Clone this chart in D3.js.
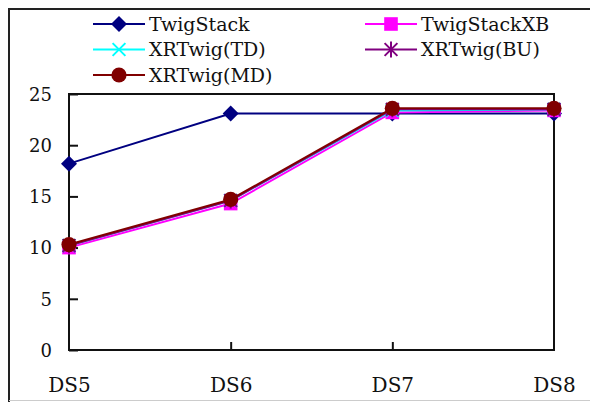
<!DOCTYPE html>
<html><head><meta charset="utf-8">
<script src="https://cdn.jsdelivr.net/npm/d3@7"></script>
<style>body{margin:0;background:#fff}svg{display:block}</style>
</head><body><svg id="c" width="590" height="402"></svg>
<script>
const categories = ["DS5","DS6","DS7","DS8"];
const seriesNames = ["TwigStack","TwigStackXB","XRTwig(TD)","XRTwig(BU)","XRTwig(MD)"];
const twigStack = [18.2, 23.1, 23.1, 23.1];
const twigStackXB = [10.0, 14.3, 23.2, 23.4];
const xrTwigTD = [10.2, 14.6, 23.4, 23.5];
const xrTwigBU = [10.2, 14.6, 23.5, 23.5];
const xrTwigMD = [10.3, 14.7, 23.6, 23.6];
const yTicks = [0, 5, 10, 15, 20, 25];

const FONT = "DejaVu Serif";
const colors = ["#000080","#ff00ff","#00ffff","#800080","#800000"];
const markers = ["diamond","square","x","star","circle"];
const values = [twigStack, twigStackXB, xrTwigTD, xrTwigBU, xrTwigMD];

const svg = d3.select("#c");
const L = 69, R = 554, T = 94, B = 350;
const x = d3.scalePoint().domain(categories).range([L, R]);
const y = d3.scaleLinear().domain([0, 25]).range([B, T]);

svg.append("path").attr("d", "M9,402V9H590").attr("fill","none").attr("stroke","#222").attr("stroke-width",2);
svg.append("line").attr("x1",9).attr("x2",590).attr("y1",400.5).attr("y2",400.5).attr("stroke","#ccc").attr("stroke-width",1);

svg.append("rect").attr("x",L).attr("y",T).attr("width",R-L).attr("height",B-T)
  .attr("fill","none").attr("stroke","#111").attr("stroke-width",2);

const yAxis = d3.axisLeft(y).tickValues(yTicks).tickSize(-9).tickPadding(17).tickSizeOuter(0);
const ga = svg.append("g").attr("transform",`translate(${L},0)`).call(yAxis);
ga.attr("font-family", FONT).attr("font-size", 18);
ga.select(".domain").remove();
ga.selectAll(".tick line").attr("stroke","#111").attr("stroke-width",2);
ga.selectAll(".tick text").attr("fill","#111").attr("dy","0.35em");

const xAxis = d3.axisBottom(x).tickSize(-8).tickPadding(28).tickSizeOuter(0);
const gx = svg.append("g").attr("transform",`translate(0,${B})`).call(xAxis);
gx.attr("font-family", FONT).attr("font-size", 20);
gx.select(".domain").remove();
gx.selectAll(".tick line").attr("stroke","#111").attr("stroke-width",2)
  .attr("display",(d,i)=> (i===0||i===categories.length-1)?"none":null);
gx.selectAll(".tick text").attr("fill","#111");

function drawMarker(g, type, color, cx, cy, s) {
  if (type === "diamond") {
    g.append("path").attr("d", `M${cx},${cy-s}L${cx+s},${cy}L${cx},${cy+s}L${cx-s},${cy}Z`).attr("fill", color);
  } else if (type === "square") {
    g.append("rect").attr("x", cx-s*0.85).attr("y", cy-s*0.85).attr("width", s*1.7).attr("height", s*1.7).attr("fill", color);
  } else if (type === "circle") {
    g.append("circle").attr("cx", cx).attr("cy", cy).attr("r", s*0.95).attr("fill", color);
  } else if (type === "x") {
    const a = s*0.8;
    g.append("path").attr("d", `M${cx-a},${cy-a}L${cx+a},${cy+a}M${cx-a},${cy+a}L${cx+a},${cy-a}`).attr("stroke", color).attr("stroke-width", 2);
  } else if (type === "star") {
    const a = s*0.8;
    g.append("path").attr("d", `M${cx-a},${cy-a}L${cx+a},${cy+a}M${cx-a},${cy+a}L${cx+a},${cy-a}M${cx},${cy-s}L${cx},${cy+s}`).attr("stroke", color).attr("stroke-width", 2);
  }
}

const line = d3.line().x((d,i)=>x(categories[i])).y(d=>y(d));
values.forEach((vals, si) => {
  const g = svg.append("g");
  g.append("path").datum(vals).attr("d", line).attr("fill","none").attr("stroke", colors[si]).attr("stroke-width", 2);
  vals.forEach((v, i) => drawMarker(g, markers[si], colors[si], x(categories[i]), y(v), 8));
});

const legendPos = [
  {lx: 93, ly: 24}, {lx: 365, ly: 24},
  {lx: 93, ly: 49.5}, {lx: 365, ly: 49.5},
  {lx: 93, ly: 75}
];
seriesNames.forEach((name, si) => {
  const p = legendPos[si];
  const g = svg.append("g");
  g.append("line").attr("x1", p.lx).attr("x2", p.lx+52).attr("y1", p.ly).attr("y2", p.ly).attr("stroke", colors[si]).attr("stroke-width", 2);
  drawMarker(g, markers[si], colors[si], p.lx+26, p.ly, 8);
  g.append("text").attr("x", p.lx+56).attr("y", p.ly).attr("dy","0.35em")
    .attr("font-family", FONT).attr("font-size", 19).attr("fill","#111").text(name);
});
</script></body></html>
